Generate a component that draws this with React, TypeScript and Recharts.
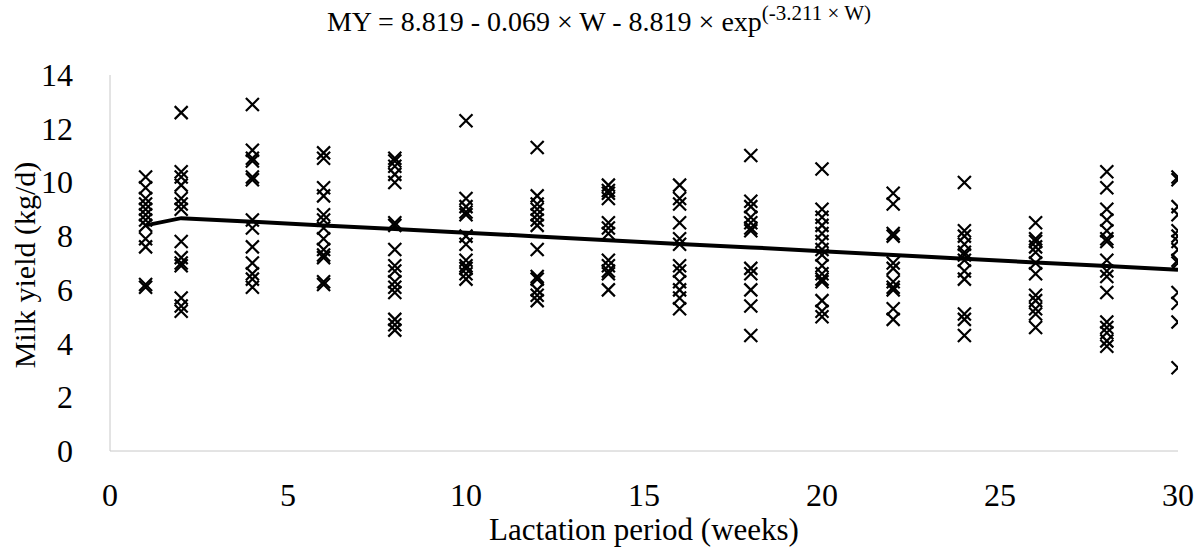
import React from "react";
import { ComposedChart, Scatter, Line, XAxis, YAxis } from "recharts";

const WEEKS = [1, 2, 4, 6, 8, 10, 12, 14, 16, 18, 20, 22, 24, 26, 28, 30];

// observed milk yield per week (kg/d)
const W1 = [10.2, 9.8, 9.4, 9.2, 9.0, 8.8, 8.6, 8.4, 7.9, 7.6, 6.2, 6.1];
const W2 = [12.6, 10.4, 10.2, 9.9, 9.4, 9.2, 9.0, 7.8, 7.2, 7.0, 6.9, 5.7, 5.4, 5.2];
const W4 = [12.9, 11.2, 10.9, 10.8, 10.2, 10.1, 8.6, 8.3, 7.6, 7.0, 6.6, 6.4, 6.1];
const W6 = [11.1, 10.9, 9.8, 9.5, 8.8, 8.6, 8.3, 7.9, 7.5, 7.3, 7.2, 6.3, 6.2];
const W8 = [10.9, 10.8, 10.6, 10.3, 10.0, 8.5, 8.4, 7.5, 6.9, 6.7, 6.3, 6.1, 5.9, 4.9, 4.7, 4.5];
const W10 = [12.3, 9.4, 9.1, 8.9, 8.8, 8.0, 7.7, 7.1, 6.9, 6.8, 6.6, 6.4];
const W12 = [11.3, 9.5, 9.2, 9.0, 8.8, 8.6, 8.4, 7.5, 6.5, 6.4, 6.0, 5.8, 5.6];
const W14 = [9.9, 9.7, 9.6, 9.4, 8.5, 8.3, 8.1, 7.1, 6.9, 6.7, 6.6, 6.0];
const W16 = [9.9, 9.4, 9.2, 8.5, 7.9, 7.7, 6.9, 6.7, 6.3, 6.0, 5.7, 5.3];
const W18 = [11.0, 9.3, 9.1, 8.7, 8.5, 8.3, 8.2, 6.8, 6.6, 6.0, 5.4, 4.3];
const W20 = [10.5, 9.0, 8.7, 8.4, 8.1, 7.8, 7.5, 7.3, 6.9, 6.6, 6.4, 6.3, 5.6, 5.2, 5.0];
const W22 = [9.6, 9.2, 8.1, 8.0, 7.0, 6.8, 6.3, 6.1, 6.0, 5.3, 4.9];
const W24 = [10.0, 8.2, 8.0, 7.7, 7.4, 7.3, 7.1, 6.7, 6.4, 5.1, 4.9, 4.3];
const W26 = [8.5, 7.9, 7.8, 7.6, 7.4, 7.0, 6.6, 5.8, 5.6, 5.3, 5.1, 4.6];
const W28 = [10.4, 9.8, 9.0, 8.6, 8.2, 7.9, 7.8, 7.1, 6.7, 6.5, 5.9, 4.8, 4.6, 4.4, 4.1, 3.9];
const W30 = [10.2, 10.1, 9.1, 8.8, 8.2, 8.0, 7.8, 7.5, 7.1, 7.0, 5.9, 5.5, 4.8, 3.1];

const OBSERVED = [W1, W2, W4, W6, W8, W10, W12, W14, W16, W18, W20, W22, W24, W26, W28, W30];

// fitted curve values at each week
const FITTED = [8.4, 8.67, 8.54, 8.4, 8.27, 8.13, 7.99, 7.85, 7.71, 7.58, 7.44, 7.3, 7.16, 7.02, 6.89, 6.75];

const X_TICKS = [0, 5, 10, 15, 20, 25, 30];
const Y_TICKS = [0, 2, 4, 6, 8, 10, 12, 14];

const scatterData = WEEKS.flatMap((week, i) => OBSERVED[i].map((value) => ({ week, value })));
const lineData = WEEKS.map((week, i) => ({ week, value: FITTED[i] }));

const FONT = "Liberation Serif";

const CrossShape = (props: any) => {
  const { cx, cy } = props;
  const s = 6.5;
  return (
    <path
      d={`M${cx - s},${cy - s}L${cx + s},${cy + s}M${cx - s},${cy + s}L${cx + s},${cy - s}`}
      stroke="#000"
      strokeWidth={2.2}
      fill="none"
    />
  );
};

const XTick = ({ x, y, payload }: any) => (
  <text x={x} y={y + 47} textAnchor="middle" fontSize={32} style={{ fontFamily: FONT }} fill="#000">
    {payload.value}
  </text>
);

const YTick = ({ x, y, payload }: any) => (
  <text x={x - 29} y={y + 11} textAnchor="end" fontSize={32} style={{ fontFamily: FONT }} fill="#000">
    {payload.value}
  </text>
);

export default function App() {
  return (
    <div style={{ position: "absolute", left: 0, top: 0, width: 1198, height: 549, background: "#fff", fontFamily: FONT }}>
      <div
        style={{
          position: "absolute",
          top: 8,
          left: 0,
          width: 1198,
          textAlign: "center",
          fontSize: 28,
          lineHeight: "28px",
          color: "#000",
          whiteSpace: "nowrap",
        }}
      >
        MY = 8.819 - 0.069 × W - 8.819 × exp
        <span style={{ fontSize: 21, position: "relative", top: -11 }}>(-3.211 × W)</span>
      </div>
      <ComposedChart width={1198} height={549} margin={{ top: 75, right: 20, left: 0, bottom: 0 }}>
        <XAxis
          type="number"
          dataKey="week"
          domain={[0, 30]}
          ticks={X_TICKS}
          height={98}
          stroke="#c8c8c8"
          tickLine={false}
          tick={<XTick />}
          allowDataOverflow
        />
        <YAxis
          type="number"
          domain={[0, 14]}
          ticks={Y_TICKS}
          width={110}
          stroke="#c8c8c8"
          tickLine={false}
          tick={<YTick />}
          allowDataOverflow
        />
        <Scatter data={scatterData} dataKey="value" shape={<CrossShape />} isAnimationActive={false} />
        <Line
          data={lineData}
          dataKey="value"
          type="linear"
          stroke="#000"
          strokeWidth={4}
          dot={false}
          isAnimationActive={false}
        />
      </ComposedChart>
      <div
        style={{
          position: "absolute",
          top: 514,
          left: 110,
          width: 1068,
          textAlign: "center",
          fontSize: 31,
          lineHeight: "31px",
          color: "#000",
          whiteSpace: "nowrap",
        }}
      >
        Lactation period (weeks)
      </div>
      <div
        style={{
          position: "absolute",
          left: 25,
          top: 265,
          transform: "translate(-50%, -50%) rotate(-90deg)",
          fontSize: 30,
          lineHeight: "30px",
          color: "#000",
          whiteSpace: "nowrap",
        }}
      >
        Milk yield (kg/d)
      </div>
    </div>
  );
}
